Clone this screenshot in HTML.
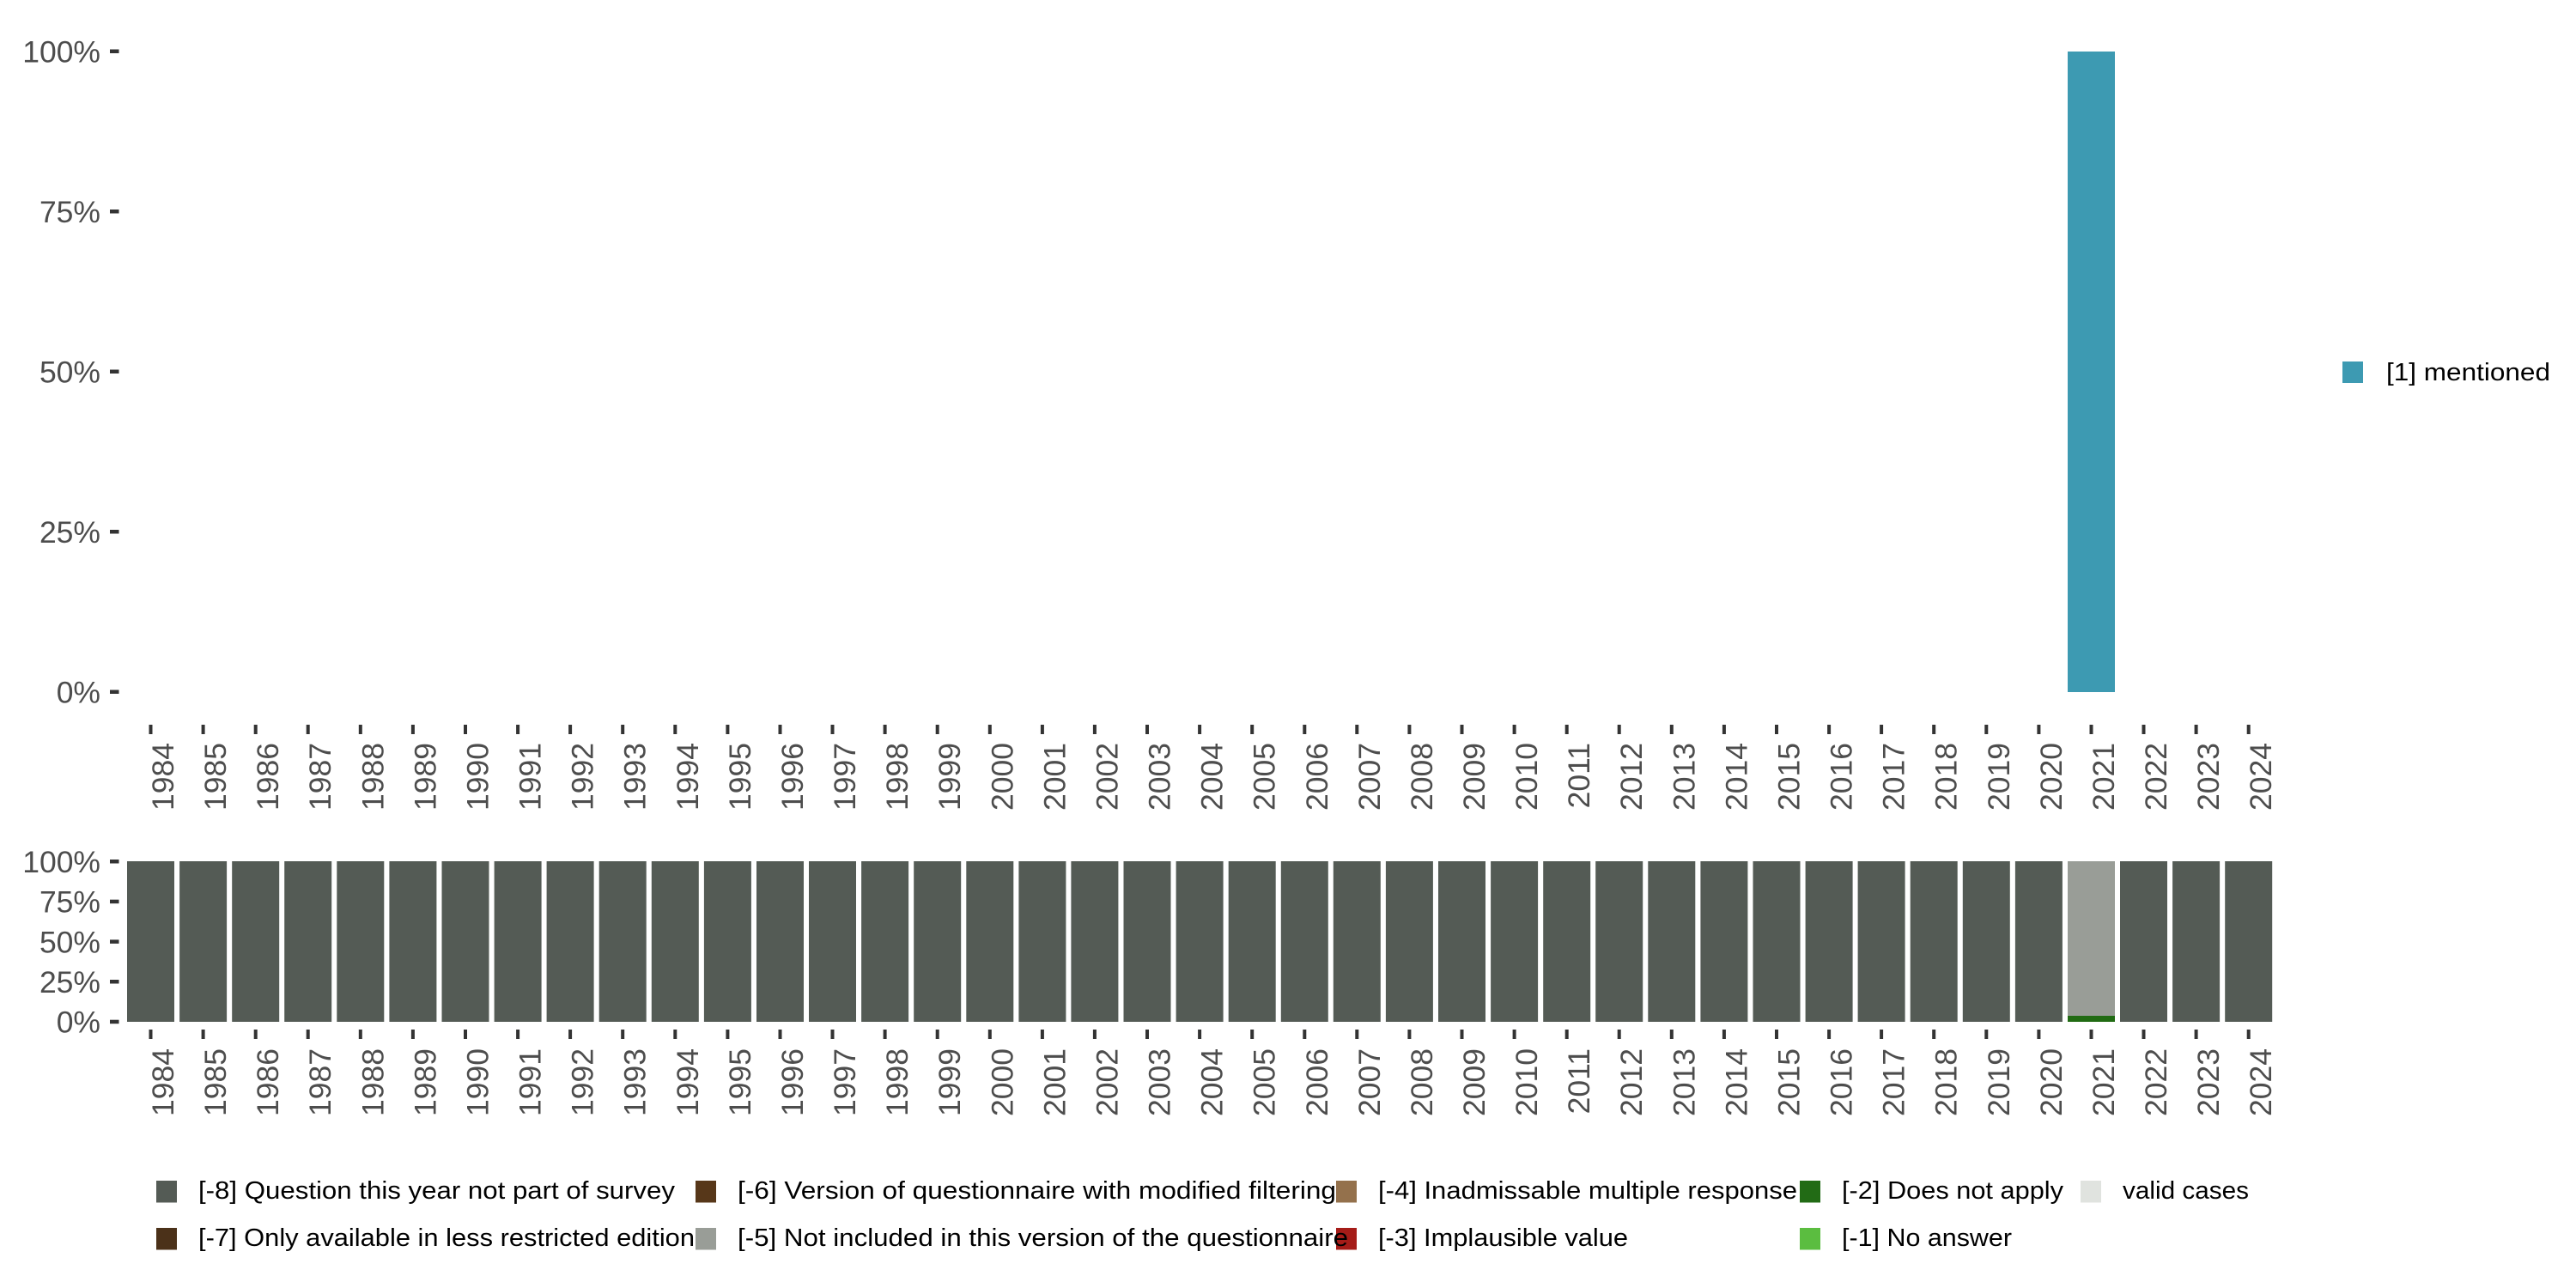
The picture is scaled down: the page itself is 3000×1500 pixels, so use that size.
<!DOCTYPE html>
<html>
<head>
<meta charset="utf-8">
<style>
html,body{margin:0;padding:0;background:#fff;}
svg{display:block;}
.ax{font-family:"Liberation Sans",sans-serif;font-size:35.5px;fill:#4d4d4d;}
.lg{font-family:"Liberation Sans",sans-serif;font-size:29px;fill:#000;}
</style>
</head>
<body>
<svg width="3000" height="1500" viewBox="0 0 3000 1500" xmlns="http://www.w3.org/2000/svg">
<rect width="3000" height="1500" fill="#fff"/>

<!-- TOP CHART -->
<rect x="2408" y="60" width="55" height="746" fill="#3d9ab2"/>

<!-- top y axis -->
<g fill="#333">
<rect x="128" y="57.5" width="10.5" height="4.5"/>
<rect x="128" y="244" width="10.5" height="4.5"/>
<rect x="128" y="430.5" width="10.5" height="4.5"/>
<rect x="128" y="617" width="10.5" height="4.5"/>
<rect x="128" y="803.5" width="10.5" height="4.5"/>
</g>
<g class="ax" text-anchor="end">
<text x="117" y="72.5">100%</text>
<text x="117" y="259">75%</text>
<text x="117" y="445.5">50%</text>
<text x="117" y="632">25%</text>
<text x="117" y="818.5">0%</text>
</g>

<!-- top x ticks -->
<g fill="#333">
<rect x="173.5" y="844" width="4" height="11"/>
<rect x="234.6" y="844" width="4" height="11"/>
<rect x="295.7" y="844" width="4" height="11"/>
<rect x="356.7" y="844" width="4" height="11"/>
<rect x="417.8" y="844" width="4" height="11"/>
<rect x="478.9" y="844" width="4" height="11"/>
<rect x="540" y="844" width="4" height="11"/>
<rect x="601.1" y="844" width="4" height="11"/>
<rect x="662.1" y="844" width="4" height="11"/>
<rect x="723.2" y="844" width="4" height="11"/>
<rect x="784.3" y="844" width="4" height="11"/>
<rect x="845.4" y="844" width="4" height="11"/>
<rect x="906.5" y="844" width="4" height="11"/>
<rect x="967.5" y="844" width="4" height="11"/>
<rect x="1028.6" y="844" width="4" height="11"/>
<rect x="1089.7" y="844" width="4" height="11"/>
<rect x="1150.8" y="844" width="4" height="11"/>
<rect x="1211.9" y="844" width="4" height="11"/>
<rect x="1272.9" y="844" width="4" height="11"/>
<rect x="1334" y="844" width="4" height="11"/>
<rect x="1395.1" y="844" width="4" height="11"/>
<rect x="1456.2" y="844" width="4" height="11"/>
<rect x="1517.3" y="844" width="4" height="11"/>
<rect x="1578.3" y="844" width="4" height="11"/>
<rect x="1639.4" y="844" width="4" height="11"/>
<rect x="1700.5" y="844" width="4" height="11"/>
<rect x="1761.6" y="844" width="4" height="11"/>
<rect x="1822.7" y="844" width="4" height="11"/>
<rect x="1883.7" y="844" width="4" height="11"/>
<rect x="1944.8" y="844" width="4" height="11"/>
<rect x="2005.9" y="844" width="4" height="11"/>
<rect x="2067" y="844" width="4" height="11"/>
<rect x="2128.1" y="844" width="4" height="11"/>
<rect x="2189.1" y="844" width="4" height="11"/>
<rect x="2250.2" y="844" width="4" height="11"/>
<rect x="2311.3" y="844" width="4" height="11"/>
<rect x="2372.4" y="844" width="4" height="11"/>
<rect x="2433.5" y="844" width="4" height="11"/>
<rect x="2494.5" y="844" width="4" height="11"/>
<rect x="2555.6" y="844" width="4" height="11"/>
<rect x="2616.7" y="844" width="4" height="11"/>
</g>
<g class="ax" text-anchor="end">
<text transform="translate(202,865) rotate(-90)">1984</text>
<text transform="translate(263.1,865) rotate(-90)">1985</text>
<text transform="translate(324.2,865) rotate(-90)">1986</text>
<text transform="translate(385.2,865) rotate(-90)">1987</text>
<text transform="translate(446.3,865) rotate(-90)">1988</text>
<text transform="translate(507.4,865) rotate(-90)">1989</text>
<text transform="translate(568.5,865) rotate(-90)">1990</text>
<text transform="translate(629.6,865) rotate(-90)">1991</text>
<text transform="translate(690.6,865) rotate(-90)">1992</text>
<text transform="translate(751.7,865) rotate(-90)">1993</text>
<text transform="translate(812.8,865) rotate(-90)">1994</text>
<text transform="translate(873.9,865) rotate(-90)">1995</text>
<text transform="translate(935,865) rotate(-90)">1996</text>
<text transform="translate(996,865) rotate(-90)">1997</text>
<text transform="translate(1057.1,865) rotate(-90)">1998</text>
<text transform="translate(1118.2,865) rotate(-90)">1999</text>
<text transform="translate(1179.3,865) rotate(-90)">2000</text>
<text transform="translate(1240.4,865) rotate(-90)">2001</text>
<text transform="translate(1301.4,865) rotate(-90)">2002</text>
<text transform="translate(1362.5,865) rotate(-90)">2003</text>
<text transform="translate(1423.6,865) rotate(-90)">2004</text>
<text transform="translate(1484.7,865) rotate(-90)">2005</text>
<text transform="translate(1545.8,865) rotate(-90)">2006</text>
<text transform="translate(1606.8,865) rotate(-90)">2007</text>
<text transform="translate(1667.9,865) rotate(-90)">2008</text>
<text transform="translate(1729,865) rotate(-90)">2009</text>
<text transform="translate(1790.1,865) rotate(-90)">2010</text>
<text transform="translate(1851.2,865) rotate(-90)">2011</text>
<text transform="translate(1912.2,865) rotate(-90)">2012</text>
<text transform="translate(1973.3,865) rotate(-90)">2013</text>
<text transform="translate(2034.4,865) rotate(-90)">2014</text>
<text transform="translate(2095.5,865) rotate(-90)">2015</text>
<text transform="translate(2156.6,865) rotate(-90)">2016</text>
<text transform="translate(2217.6,865) rotate(-90)">2017</text>
<text transform="translate(2278.7,865) rotate(-90)">2018</text>
<text transform="translate(2339.8,865) rotate(-90)">2019</text>
<text transform="translate(2400.9,865) rotate(-90)">2020</text>
<text transform="translate(2462,865) rotate(-90)">2021</text>
<text transform="translate(2523,865) rotate(-90)">2022</text>
<text transform="translate(2584.1,865) rotate(-90)">2023</text>
<text transform="translate(2645.2,865) rotate(-90)">2024</text>
</g>

<!-- right legend -->
<rect x="2728" y="421" width="24" height="25" fill="#3d9ab2"/>
<text class="lg" x="2779" y="443" textLength="191" lengthAdjust="spacingAndGlyphs">[1] mentioned</text>

<!-- BOTTOM CHART -->
<g fill="#545b55">
<rect x="148" y="1003" width="55" height="187"/>
<rect x="209.1" y="1003" width="55" height="187"/>
<rect x="270.2" y="1003" width="55" height="187"/>
<rect x="331.2" y="1003" width="55" height="187"/>
<rect x="392.3" y="1003" width="55" height="187"/>
<rect x="453.4" y="1003" width="55" height="187"/>
<rect x="514.5" y="1003" width="55" height="187"/>
<rect x="575.6" y="1003" width="55" height="187"/>
<rect x="636.6" y="1003" width="55" height="187"/>
<rect x="697.7" y="1003" width="55" height="187"/>
<rect x="758.8" y="1003" width="55" height="187"/>
<rect x="819.9" y="1003" width="55" height="187"/>
<rect x="881" y="1003" width="55" height="187"/>
<rect x="942" y="1003" width="55" height="187"/>
<rect x="1003.1" y="1003" width="55" height="187"/>
<rect x="1064.2" y="1003" width="55" height="187"/>
<rect x="1125.3" y="1003" width="55" height="187"/>
<rect x="1186.4" y="1003" width="55" height="187"/>
<rect x="1247.4" y="1003" width="55" height="187"/>
<rect x="1308.5" y="1003" width="55" height="187"/>
<rect x="1369.6" y="1003" width="55" height="187"/>
<rect x="1430.7" y="1003" width="55" height="187"/>
<rect x="1491.8" y="1003" width="55" height="187"/>
<rect x="1552.8" y="1003" width="55" height="187"/>
<rect x="1613.9" y="1003" width="55" height="187"/>
<rect x="1675" y="1003" width="55" height="187"/>
<rect x="1736.1" y="1003" width="55" height="187"/>
<rect x="1797.2" y="1003" width="55" height="187"/>
<rect x="1858.2" y="1003" width="55" height="187"/>
<rect x="1919.3" y="1003" width="55" height="187"/>
<rect x="1980.4" y="1003" width="55" height="187"/>
<rect x="2041.5" y="1003" width="55" height="187"/>
<rect x="2102.6" y="1003" width="55" height="187"/>
<rect x="2163.6" y="1003" width="55" height="187"/>
<rect x="2224.7" y="1003" width="55" height="187"/>
<rect x="2285.8" y="1003" width="55" height="187"/>
<rect x="2346.9" y="1003" width="55" height="187"/>
<rect x="2469" y="1003" width="55" height="187"/>
<rect x="2530.1" y="1003" width="55" height="187"/>
<rect x="2591.2" y="1003" width="55" height="187"/>
</g>
<rect x="2408" y="1003" width="55" height="180" fill="#999d97"/>
<rect x="2408" y="1183" width="55" height="7" fill="#216b13"/>

<!-- bottom y axis -->
<g fill="#333">
<rect x="128" y="1001" width="10.5" height="4.5"/>
<rect x="128" y="1047.7" width="10.5" height="4.5"/>
<rect x="128" y="1094.4" width="10.5" height="4.5"/>
<rect x="128" y="1141" width="10.5" height="4.5"/>
<rect x="128" y="1187.7" width="10.5" height="4.5"/>
</g>
<g class="ax" text-anchor="end">
<text x="117" y="1016">100%</text>
<text x="117" y="1062.7">75%</text>
<text x="117" y="1109.4">50%</text>
<text x="117" y="1156">25%</text>
<text x="117" y="1202.7">0%</text>
</g>

<!-- bottom x ticks -->
<g fill="#333">
<rect x="173.5" y="1199" width="4" height="11"/>
<rect x="234.6" y="1199" width="4" height="11"/>
<rect x="295.7" y="1199" width="4" height="11"/>
<rect x="356.7" y="1199" width="4" height="11"/>
<rect x="417.8" y="1199" width="4" height="11"/>
<rect x="478.9" y="1199" width="4" height="11"/>
<rect x="540" y="1199" width="4" height="11"/>
<rect x="601.1" y="1199" width="4" height="11"/>
<rect x="662.1" y="1199" width="4" height="11"/>
<rect x="723.2" y="1199" width="4" height="11"/>
<rect x="784.3" y="1199" width="4" height="11"/>
<rect x="845.4" y="1199" width="4" height="11"/>
<rect x="906.5" y="1199" width="4" height="11"/>
<rect x="967.5" y="1199" width="4" height="11"/>
<rect x="1028.6" y="1199" width="4" height="11"/>
<rect x="1089.7" y="1199" width="4" height="11"/>
<rect x="1150.8" y="1199" width="4" height="11"/>
<rect x="1211.9" y="1199" width="4" height="11"/>
<rect x="1272.9" y="1199" width="4" height="11"/>
<rect x="1334" y="1199" width="4" height="11"/>
<rect x="1395.1" y="1199" width="4" height="11"/>
<rect x="1456.2" y="1199" width="4" height="11"/>
<rect x="1517.3" y="1199" width="4" height="11"/>
<rect x="1578.3" y="1199" width="4" height="11"/>
<rect x="1639.4" y="1199" width="4" height="11"/>
<rect x="1700.5" y="1199" width="4" height="11"/>
<rect x="1761.6" y="1199" width="4" height="11"/>
<rect x="1822.7" y="1199" width="4" height="11"/>
<rect x="1883.7" y="1199" width="4" height="11"/>
<rect x="1944.8" y="1199" width="4" height="11"/>
<rect x="2005.9" y="1199" width="4" height="11"/>
<rect x="2067" y="1199" width="4" height="11"/>
<rect x="2128.1" y="1199" width="4" height="11"/>
<rect x="2189.1" y="1199" width="4" height="11"/>
<rect x="2250.2" y="1199" width="4" height="11"/>
<rect x="2311.3" y="1199" width="4" height="11"/>
<rect x="2372.4" y="1199" width="4" height="11"/>
<rect x="2433.5" y="1199" width="4" height="11"/>
<rect x="2494.5" y="1199" width="4" height="11"/>
<rect x="2555.6" y="1199" width="4" height="11"/>
<rect x="2616.7" y="1199" width="4" height="11"/>
</g>
<g class="ax" text-anchor="end">
<text transform="translate(202,1221) rotate(-90)">1984</text>
<text transform="translate(263.1,1221) rotate(-90)">1985</text>
<text transform="translate(324.2,1221) rotate(-90)">1986</text>
<text transform="translate(385.2,1221) rotate(-90)">1987</text>
<text transform="translate(446.3,1221) rotate(-90)">1988</text>
<text transform="translate(507.4,1221) rotate(-90)">1989</text>
<text transform="translate(568.5,1221) rotate(-90)">1990</text>
<text transform="translate(629.6,1221) rotate(-90)">1991</text>
<text transform="translate(690.6,1221) rotate(-90)">1992</text>
<text transform="translate(751.7,1221) rotate(-90)">1993</text>
<text transform="translate(812.8,1221) rotate(-90)">1994</text>
<text transform="translate(873.9,1221) rotate(-90)">1995</text>
<text transform="translate(935,1221) rotate(-90)">1996</text>
<text transform="translate(996,1221) rotate(-90)">1997</text>
<text transform="translate(1057.1,1221) rotate(-90)">1998</text>
<text transform="translate(1118.2,1221) rotate(-90)">1999</text>
<text transform="translate(1179.3,1221) rotate(-90)">2000</text>
<text transform="translate(1240.4,1221) rotate(-90)">2001</text>
<text transform="translate(1301.4,1221) rotate(-90)">2002</text>
<text transform="translate(1362.5,1221) rotate(-90)">2003</text>
<text transform="translate(1423.6,1221) rotate(-90)">2004</text>
<text transform="translate(1484.7,1221) rotate(-90)">2005</text>
<text transform="translate(1545.8,1221) rotate(-90)">2006</text>
<text transform="translate(1606.8,1221) rotate(-90)">2007</text>
<text transform="translate(1667.9,1221) rotate(-90)">2008</text>
<text transform="translate(1729,1221) rotate(-90)">2009</text>
<text transform="translate(1790.1,1221) rotate(-90)">2010</text>
<text transform="translate(1851.2,1221) rotate(-90)">2011</text>
<text transform="translate(1912.2,1221) rotate(-90)">2012</text>
<text transform="translate(1973.3,1221) rotate(-90)">2013</text>
<text transform="translate(2034.4,1221) rotate(-90)">2014</text>
<text transform="translate(2095.5,1221) rotate(-90)">2015</text>
<text transform="translate(2156.6,1221) rotate(-90)">2016</text>
<text transform="translate(2217.6,1221) rotate(-90)">2017</text>
<text transform="translate(2278.7,1221) rotate(-90)">2018</text>
<text transform="translate(2339.8,1221) rotate(-90)">2019</text>
<text transform="translate(2400.9,1221) rotate(-90)">2020</text>
<text transform="translate(2462,1221) rotate(-90)">2021</text>
<text transform="translate(2523,1221) rotate(-90)">2022</text>
<text transform="translate(2584.1,1221) rotate(-90)">2023</text>
<text transform="translate(2645.2,1221) rotate(-90)">2024</text>
</g>

<!-- bottom legend squares -->
<rect x="182" y="1375" width="24" height="25.5" fill="#545b55"/>
<rect x="182" y="1430" width="24" height="25.5" fill="#4b3119"/>
<rect x="810" y="1375" width="24" height="25.5" fill="#573719"/>
<rect x="810" y="1430" width="24" height="25.5" fill="#999d97"/>
<rect x="1556" y="1375" width="24" height="25.5" fill="#94714c"/>
<rect x="1556" y="1430" width="24" height="25.5" fill="#a51c18"/>
<rect x="2096" y="1375" width="24" height="25.5" fill="#226b15"/>
<rect x="2096" y="1430" width="24" height="25.5" fill="#5bbd40"/>
<rect x="2423" y="1375" width="24" height="25.5" fill="#e0e3df"/>

<!-- bottom legend text -->
<g class="lg">
<text x="231" y="1396" textLength="555" lengthAdjust="spacingAndGlyphs">[-8] Question this year not part of survey</text>
<text x="231" y="1451" textLength="578" lengthAdjust="spacingAndGlyphs">[-7] Only available in less restricted edition</text>
<text x="859" y="1396" textLength="697" lengthAdjust="spacingAndGlyphs">[-6] Version of questionnaire with modified filtering</text>
<text x="859" y="1451" textLength="711" lengthAdjust="spacingAndGlyphs">[-5] Not included in this version of the questionnaire</text>
<text x="1605" y="1396" textLength="488" lengthAdjust="spacingAndGlyphs">[-4] Inadmissable multiple response</text>
<text x="1605" y="1451" textLength="291" lengthAdjust="spacingAndGlyphs">[-3] Implausible value</text>
<text x="2145" y="1396" textLength="258" lengthAdjust="spacingAndGlyphs">[-2] Does not apply</text>
<text x="2145" y="1451" textLength="198" lengthAdjust="spacingAndGlyphs">[-1] No answer</text>
<text x="2472" y="1396" textLength="147" lengthAdjust="spacingAndGlyphs">valid cases</text>
</g>
</svg>
</body>
</html>
